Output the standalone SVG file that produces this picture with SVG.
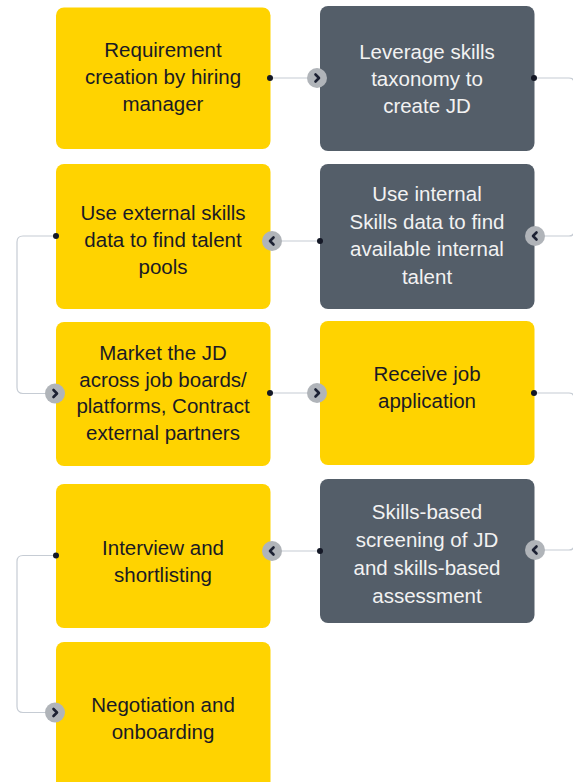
<svg xmlns="http://www.w3.org/2000/svg" width="573" height="782" viewBox="0 0 573 782">
<defs>
<style>
.y{fill:#ffd300}
.d{fill:#545e69}
.t{font-family:"Liberation Sans",Arial,sans-serif;font-size:20.5px;text-anchor:middle}
.ty{fill:#1a1a24}
.td{fill:#f2f2f2}
.ln{fill:none;stroke:#c6ccd4;stroke-width:1.2}
.dot{fill:#141826}
.bt{fill:#b0b4b9}
.ch{fill:none;stroke:#1c2133;stroke-width:2.6;stroke-linecap:round;stroke-linejoin:round}
</style>
</defs>
<rect width="573" height="782" fill="#ffffff"/>

<g id="n1">
<rect class="y" x="56" y="7.5" width="214.5" height="141.5" rx="8"/>
<text class="t ty" x="163" y="56.5">Requirement</text>
<text class="t ty" x="163" y="83.5">creation by hiring</text>
<text class="t ty" x="163" y="110.5">manager</text>
</g>
<g id="n2">
<rect class="d" x="320" y="6" width="214.5" height="145" rx="8"/>
<text class="t td" x="427" y="59">Leverage skills</text>
<text class="t td" x="427" y="86">taxonomy to</text>
<text class="t td" x="427" y="113">create JD</text>
</g>
<g id="n3">
<rect class="d" x="320" y="164" width="214.5" height="145" rx="8"/>
<text class="t td" x="427" y="201">Use internal</text>
<text class="t td" x="427" y="228.5">Skills data to find</text>
<text class="t td" x="427" y="256">available internal</text>
<text class="t td" x="427" y="283.5">talent</text>
</g>
<g id="n4">
<rect class="y" x="56" y="164" width="214.5" height="145" rx="8"/>
<text class="t ty" x="163" y="220">Use external skills</text>
<text class="t ty" x="163" y="247">data to find talent</text>
<text class="t ty" x="163" y="274">pools</text>
</g>
<g id="n5">
<rect class="y" x="56" y="322" width="214.5" height="144" rx="8"/>
<text class="t ty" x="163" y="360">Market the JD</text>
<text class="t ty" x="163" y="386.7">across job boards/</text>
<text class="t ty" x="163" y="413.3">platforms, Contract</text>
<text class="t ty" x="163" y="440">external partners</text>
</g>
<g id="n6">
<rect class="y" x="320" y="321" width="214.5" height="144" rx="8"/>
<text class="t ty" x="427" y="381">Receive job</text>
<text class="t ty" x="427" y="408">application</text>
</g>
<g id="n7">
<rect class="d" x="320" y="479" width="214.5" height="144" rx="8"/>
<text class="t td" x="427" y="519">Skills-based</text>
<text class="t td" x="427" y="547">screening of JD</text>
<text class="t td" x="427" y="575">and skills-based</text>
<text class="t td" x="427" y="603">assessment</text>
</g>
<g id="n8">
<rect class="y" x="56" y="484" width="214.5" height="144" rx="8"/>
<text class="t ty" x="163" y="555">Interview and</text>
<text class="t ty" x="163" y="582">shortlisting</text>
</g>
<g id="n9">
<rect class="y" x="56" y="642" width="214.5" height="150" rx="8"/>
<text class="t ty" x="163" y="712">Negotiation and</text>
<text class="t ty" x="163" y="739">onboarding</text>
</g>

<g id="connectors">
<!-- n1 -> n2 -->
<path class="ln" d="M270 78 H308"/>
<circle class="dot" cx="270" cy="78" r="3"/>
<circle class="bt" cx="317" cy="78" r="10"/>
<path class="ch" d="M315.5 74.5 L319 78 L315.5 81.5"/>
<!-- n2 -> n3 -->
<path class="ln" d="M534 78 H569 Q574 78 574 83 V231 Q574 236 569 236 H544"/>
<circle class="dot" cx="534" cy="78" r="3"/>
<circle class="bt" cx="535" cy="236" r="10"/>
<path class="ch" d="M536.5 232.5 L533 236 L536.5 239.5"/>
<!-- n3 -> n4 -->
<path class="ln" d="M320 241 H281"/>
<circle class="dot" cx="320" cy="241" r="3"/>
<circle class="bt" cx="272" cy="241" r="10"/>
<path class="ch" d="M273.5 237.5 L270 241 L273.5 244.5"/>
<!-- n4 -> n5 -->
<path class="ln" d="M56 236 H23 Q17 236 17 242 V387.5 Q17 393.5 23 393.5 H46"/>
<circle class="dot" cx="56" cy="236" r="3"/>
<circle class="bt" cx="55" cy="393.5" r="10"/>
<path class="ch" d="M53.5 390 L57 393.5 L53.5 397"/>
<!-- n5 -> n6 -->
<path class="ln" d="M270 393 H308"/>
<circle class="dot" cx="270" cy="393" r="3"/>
<circle class="bt" cx="317" cy="393" r="10"/>
<path class="ch" d="M315.5 389.5 L319 393 L315.5 396.5"/>
<!-- n6 -> n7 -->
<path class="ln" d="M534 393 H569 Q574 393 574 398 V545 Q574 550 569 550 H544"/>
<circle class="dot" cx="534" cy="393" r="3"/>
<circle class="bt" cx="535" cy="550" r="10"/>
<path class="ch" d="M536.5 546.5 L533 550 L536.5 553.5"/>
<!-- n7 -> n8 -->
<path class="ln" d="M320 551 H281"/>
<circle class="dot" cx="320" cy="551" r="3"/>
<circle class="bt" cx="272" cy="551" r="10"/>
<path class="ch" d="M273.5 547.5 L270 551 L273.5 554.5"/>
<!-- n8 -> n9 -->
<path class="ln" d="M56 555.5 H23 Q17 555.5 17 561.5 V706.5 Q17 712.5 23 712.5 H46"/>
<circle class="dot" cx="56" cy="555.5" r="3"/>
<circle class="bt" cx="55" cy="712.5" r="10"/>
<path class="ch" d="M53.5 709 L57 712.5 L53.5 716"/>
</g>
</svg>
